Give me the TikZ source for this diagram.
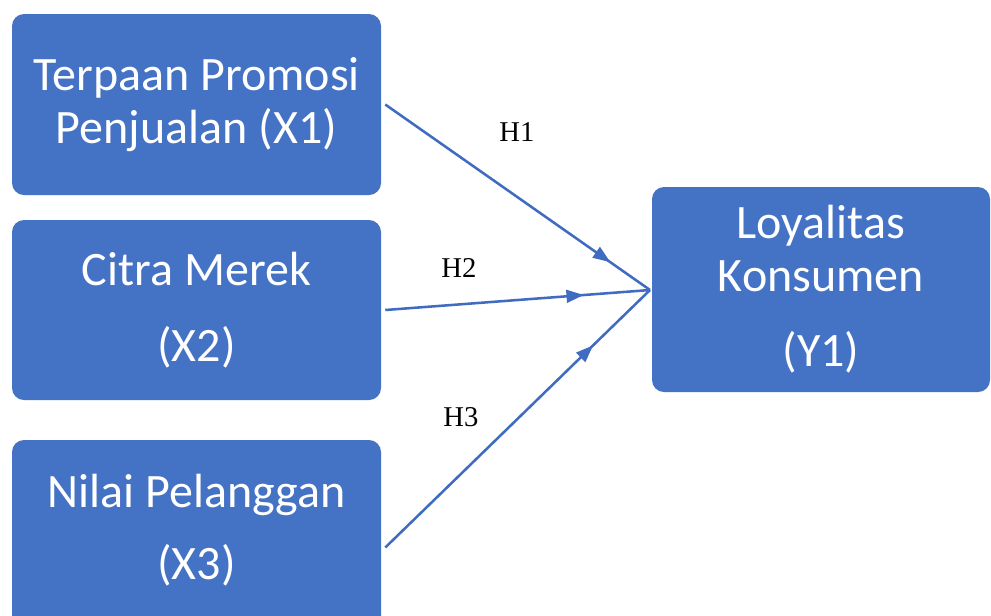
\documentclass[tikz,border=0pt]{standalone}
\usepackage{fontspec}
\setmainfont{Carlito}
\newfontfamily\labfont{Liberation Serif}
\usetikzlibrary{arrows.meta,decorations.markings}
\definecolor{boxblue}{HTML}{4472C4}
\definecolor{lineblue}{HTML}{3F6CC0}
\begin{document}
\begin{tikzpicture}[x=0.75pt,y=-0.75pt,
  box/.style={fill=boxblue, rounded corners=9pt, minimum width=276.75pt, inner sep=0pt},
  boxtext/.style={text=white, align=center, font=\fontsize{36}{39.5}\selectfont},
  conn/.style={draw=lineblue, line width=1.9pt, postaction={decorate},
    decoration={markings, mark=at position #1 with {\arrow{Triangle[length=13pt,width=9.5pt]}}}},
  hlab/.style={font=\labfont\fontsize{21.5}{24}\selectfont, text=black}]
\clip (0,0) rectangle (991,615);
\fill[white] (0,0) rectangle (991,615);
% boxes
\node[box, boxtext, minimum height=135.75pt] (x1) at (196.5,104.5) {Terpaan Promosi\\Penjualan (X1)};
\node[box, boxtext, minimum height=135pt] (x2) at (196.5,310) {Citra Merek\\[17pt](X2)};
\node[box, minimum height=146.25pt] (x3) at (196.5,537.5) {};
\node[boxtext] (x3t) at (196.5,530) {Nilai Pelanggan\\[15pt](X3)};
\node[box, boxtext, minimum width=253.5pt, minimum height=153.75pt] (y1) at (821,289.5) {Loyalitas\\Konsumen\\[17pt](Y1)};
% connectors
\coordinate (t) at (650,290);
\draw[conn=0.85] ([xshift=3pt]x1.east) -- (t);
\draw[conn=0.75] ([xshift=3pt]x2.east) -- (t);
\draw[conn=0.785] ([xshift=3pt,yshift=-7.5pt]x3.east) -- (t);
% labels
\node[hlab] (h1) at (517,132) {H1};
\node[hlab] (h2) at (459,268) {H2};
\node[hlab] (h3) at (461,417) {H3};
\end{tikzpicture}
\end{document}
